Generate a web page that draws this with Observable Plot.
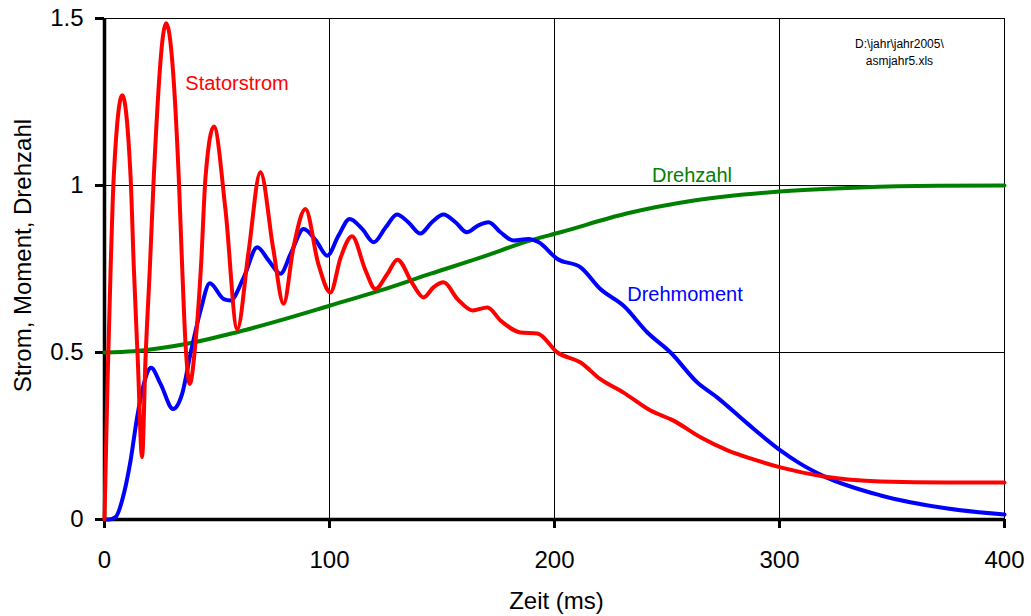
<!DOCTYPE html>
<html>
<head>
<meta charset="utf-8">
<script src="https://cdn.jsdelivr.net/npm/d3@7"></script>
<script src="https://cdn.jsdelivr.net/npm/@observablehq/plot@0.6"></script>
<style>
  html, body { margin: 0; padding: 0; background: #fff; }
  #chart { width: 1031px; height: 616px; }
</style>
</head>
<body>
<div id="chart"></div>
<script>
// Stator current (Statorstrom)
const statorT = [0, 1.3, 2.7, 4.1, 7.9, 11.6, 13, 14.8, 16.7, 18.2, 20.2, 21.9, 27.4, 33, 34.5, 36, 37.9, 40.4, 42.9, 44.9, 48.6, 53.8, 59, 64, 69.3, 75, 79.6, 84, 89.3, 95, 100.4, 105, 110, 116, 120.4, 125.7, 130.2, 136.9, 141.8, 146.2, 150.7, 156.9, 163.6, 170.2, 176, 184.9, 192.4, 201.3, 211.6, 220.4, 230.7, 242.7, 252.9, 264.9, 276.9, 288.4, 300.4, 319.6, 345, 374.7, 400];
const statorV = [0, 0.4, 0.746, 1.025, 1.27, 1.025, 0.76, 0.476, 0.187, 0.476, 0.76, 1.025, 1.486, 1.025, 0.76, 0.527, 0.406, 0.527, 0.76, 1.025, 1.177, 0.925, 0.57, 0.8, 1.04, 0.81, 0.646, 0.815, 0.93, 0.766, 0.68, 0.785, 0.848, 0.746, 0.69, 0.735, 0.778, 0.706, 0.665, 0.695, 0.71, 0.66, 0.626, 0.635, 0.596, 0.56, 0.557, 0.5, 0.47, 0.42, 0.38, 0.326, 0.296, 0.246, 0.207, 0.18, 0.156, 0.129, 0.114, 0.111, 0.111];

// Torque (Drehmoment)
const momentT = [0, 2, 4.9, 8.6, 11.6, 14.5, 17.5, 20.7, 24.9, 30.5, 34.5, 38.2, 42.7, 46.8, 53, 56, 61.9, 67.9, 73, 78.2, 83, 88.5, 94, 99, 104, 109, 114.5, 119.7, 125, 130, 135, 140.4, 145.5, 150.7, 156, 161, 166, 170.7, 176, 181.8, 188.4, 193, 201.3, 211.6, 220.4, 230.7, 241.3, 251.6, 263.5, 272.4, 285.8, 300.4, 309, 319.6, 345, 374.7, 400];
const momentV = [0, 0, 0.007, 0.077, 0.177, 0.306, 0.406, 0.454, 0.406, 0.331, 0.376, 0.496, 0.626, 0.707, 0.66, 0.656, 0.725, 0.815, 0.775, 0.736, 0.8, 0.87, 0.835, 0.79, 0.85, 0.9, 0.87, 0.83, 0.875, 0.913, 0.89, 0.856, 0.89, 0.913, 0.89, 0.86, 0.88, 0.89, 0.86, 0.835, 0.84, 0.83, 0.78, 0.755, 0.69, 0.64, 0.56, 0.5, 0.41, 0.365, 0.287, 0.207, 0.168, 0.13, 0.072, 0.033, 0.015];

// Speed (Drehzahl)
const speedT = [0, 13, 36.7, 56, 80, 100, 122.7, 145, 167, 189, 202.7, 232, 262, 300, 336, 370, 400];
const speedV = [0.5, 0.504, 0.526, 0.556, 0.6, 0.64, 0.686, 0.736, 0.784, 0.835, 0.86, 0.916, 0.955, 0.982, 0.994, 0.999, 1.0];

const xTicks = [0, 100, 200, 300, 400];
const yTicks = [0, 0.5, 1, 1.5];
const xGrid = [100, 200, 300];
const yGrid = [0.5, 1];

const toRows = (ts, vs) => ts.map((t, i) => ({t, v: vs[i]}));
const stator = toRows(statorT, statorV);
const moment = toRows(momentT, momentV);
const speed = toRows(speedT, speedV);

const font = "'Liberation Sans', Arial, Helvetica, sans-serif";

const chart = Plot.plot({
  width: 1031,
  height: 616,
  marginLeft: 104,
  marginRight: 27,
  marginTop: 18,
  marginBottom: 97,
  style: {fontFamily: font, background: "#fff", color: "#000"},
  x: {domain: [0, 400]},
  y: {domain: [0, 1.5]},
  marks: [
    Plot.frame({stroke: "#000", strokeWidth: 1}),
    Plot.ruleX(xGrid, {stroke: "#000", strokeWidth: 1}),
    Plot.ruleY(yGrid, {stroke: "#000", strokeWidth: 1}),
    Plot.axisX({ticks: xTicks, tickFormat: d => String(d), tickSize: 9, tickPadding: 22, fontSize: 24, strokeWidth: 3, label: null}),
    Plot.axisY({ticks: yTicks, tickFormat: d => String(d), tickSize: 9, tickPadding: 12, fontSize: 24, strokeWidth: 3, label: null}),
    Plot.ruleX([0], {stroke: "#000", strokeWidth: 3.5}),
    Plot.ruleY([0], {stroke: "#000", strokeWidth: 3.5}),
    Plot.line(speed, {x: "t", y: "v", stroke: "#008000", strokeWidth: 4, curve: "monotone-x"}),
    Plot.line(moment, {x: "t", y: "v", stroke: "#0000ff", strokeWidth: 4, curve: "monotone-x"}),
    Plot.line(stator, {x: "t", y: "v", stroke: "#ff0000", strokeWidth: 4, curve: "monotone-x"}),
    Plot.text(["Statorstrom"], {x: 58.9, y: 1.305, text: d => d, fill: "#ff0000", fontSize: 20, textAnchor: "middle"}),
    Plot.text(["Drehzahl"], {x: 261.1, y: 1.03, text: d => d, fill: "#008000", fontSize: 20, textAnchor: "middle"}),
    Plot.text(["Drehmoment"], {x: 258, y: 0.674, text: d => d, fill: "#0000ff", fontSize: 20, textAnchor: "middle"}),
    Plot.text(["D:\\jahr\\jahr2005\\\nasmjahr5.xls"], {x: 353.3, y: 1.403, text: d => d, fill: "#000", fontSize: 12, lineHeight: 1.4, textAnchor: "middle"}),
    Plot.text(["Strom, Moment, Drehzahl"], {x: 0, y: 0.79, dx: -81, rotate: -90, text: d => d, fill: "#000", fontSize: 24, textAnchor: "middle"}),
    Plot.text(["Zeit (ms)"], {x: 200.9, y: 0, dy: 82, text: d => d, fill: "#000", fontSize: 24, textAnchor: "middle"})
  ]
});
document.getElementById("chart").appendChild(chart);
</script>
</body>
</html>
